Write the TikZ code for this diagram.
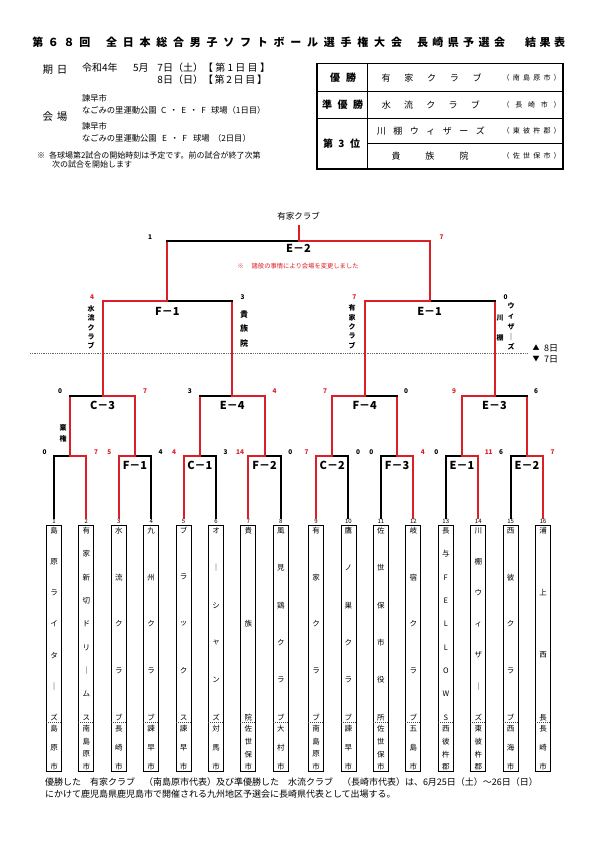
\documentclass[tikz,border=0pt]{standalone}
\usepackage{fontspec}
\setmainfont{Noto Sans CJK JP}
\usetikzlibrary{calc}
\definecolor{bred}{RGB}{220,30,38}
\makeatletter
\newcommand\spr[2]{\hbox to #1{\def\spr@f{1}\@tfor\spr@x:=#2\do{\ifx\spr@f\@empty\hfill\fi\spr@x\def\spr@f{}}}}
\makeatother
\newcommand\vcol[6]{%
  \foreach \ch [count=\k] in {#6} {\xdef\vcnt{\k}}%
  \foreach \ch [count=\k] in {#6} {%
    \node[#5] (#1-\k) at ({#2},{#3+(\k-1)*((#4)-(#3))/(\vcnt-1)}) {\ch};}%
}
\newcommand\arm[4]{\draw[#3] (#1) -- (#1 |- #2); \draw[#4] (#1 |- #2) -- (#2);}
\newcommand\team[4]{%
  \node[num] (n#1) at (#2,521.5) {#1};
  \node[tbox] (b#1) at (#2,648) {};
  \draw[dsep] (b#1.west |- dv) -- (b#1.east |- dv);
  \vcol{nm#1}{#2}{530.5}{717.5}{vn}{#3}
  \vcol{ct#1}{#2}{729}{767}{vn}{#4}
}
\begin{document}
\begin{tikzpicture}[x=1pt,y=-1pt,
  tx/.style={inner sep=0pt,outer sep=0pt},
  ttl/.style={tx,anchor=west,font=\fontsize{11}{11}\selectfont\bfseries},
  inf/.style={tx,anchor=west,font=\fontsize{10}{10}\selectfont},
  ven/.style={tx,anchor=west,font=\fontsize{8.3}{8.3}\selectfont},
  nte/.style={tx,anchor=west,font=\fontsize{8}{8}\selectfont},
  thd/.style={tx,font=\fontsize{10}{10}\selectfont\bfseries},
  tnm/.style={tx,font=\fontsize{9}{9}\selectfont},
  tct/.style={tx,font=\fontsize{7}{7}\selectfont},
  tline/.style={line width=1.4pt},
  lbl/.style={tx,font=\fontsize{11}{11}\selectfont\bfseries},
  sc/.style={tx,font=\fontsize{6.5}{6.5}\selectfont\bfseries},
  scr/.style={sc,text=bred},
  vb/.style={tx,font=\fontsize{7}{7}\selectfont\bfseries},
  vbl/.style={tx,font=\fontsize{8}{8}\selectfont\bfseries},
  vn/.style={tx,font=\fontsize{7.5}{7.5}\selectfont},
  num/.style={inner sep=0pt,outer sep=1pt,font=\fontsize{6}{6}\selectfont},
  tbox/.style={draw,line width=0.9pt,minimum width=15pt,minimum height=246pt,inner sep=0pt},
  dsep/.style={line width=0.5pt,dash pattern=on 1pt off 1pt,black!75},
  ln/.style={line width=2pt,line cap=rect,black},
  lnr/.style={line width=2pt,line cap=rect,bred},
  dotl/.style={line width=0.7pt,dash pattern=on 0.9pt off 0.9pt,black!60},
  btx/.style={tx,anchor=west,font=\fontsize{9}{9}\selectfont}
]
\useasboundingbox (0,0) rectangle (595,842);
\fill[white] (0,0) rectangle (595,842);

% title
\node[ttl] (ti1) at (32.3,42) {\spr{58pt}{第６８回}};
\node[ttl] (ti2) at (106,42) {\spr{296pt}{全日本総合男子ソフトボール選手権大会}};
\node[ttl] (ti3) at (417,42) {\spr{88pt}{長崎県予選会}};
\node[ttl] (ti4) at (525,42) {\spr{40pt}{結果表}};

% info block
\node[tx,font=\fontsize{10.5}{10.5}\selectfont] (kb) at (55,70) {\spr{25pt}{期日}};
\node[inf] (d1a) at (82,68) {令和4年};
\node[inf] (d1b) at (133,68) {5月};
\node[inf,anchor=east] (d1c) at (203,68) {7日（土）};
\node[inf] (d1d) at (203,68) {\spr{67pt}{【第1日目】}};
\node[inf,anchor=east] (d2c) at (203,80) {8日（日）};
\node[inf] (d2d) at (203,80) {\spr{64pt}{【第2日目】}};
\node[tx,font=\fontsize{10.5}{10.5}\selectfont] (kj) at (55,117) {\spr{25pt}{会場}};
\node[ven] (v1a) at (82,98) {諫早市};
\node[ven] (v1b) at (82,110) {なごみの里運動公園};
\node[ven] (v1c) at (161,110) {\spr{45pt}{C・E・F}};
\node[ven] (v1d) at (211,110) {球場（1日目）};
\node[ven] (v2a) at (82,126) {諫早市};
\node[ven] (v2b) at (82,138) {なごみの里運動公園};
\node[ven] (v2c) at (162,138) {\spr{25pt}{E・F}};
\node[ven] (v2d) at (193,138) {球場};
\node[ven] (v2e) at (213,138) {（2日目）};
\node[nte] (nt1) at (37,155) {※\hspace{4pt}各球場第2試合の開始時刻は予定です。前の試合が終了次第};
\node[nte] (nt2) at (52,164) {次の試合を開始します};

% result table
\draw[tline] (317,63.5) rectangle (563,169);
\draw[tline] (317,91.7) -- (563,91.7);
\draw[tline] (317,118.3) -- (563,118.3);
\draw[line width=1pt] (367.3,143.5) -- (563,143.5);
\draw[tline] (367.3,63.5) -- (367.3,169);
\node[thd] (h1) at (343,78) {\spr{26pt}{優勝}};
\node[thd] (h2) at (342.5,105) {\spr{41pt}{準優勝}};
\node[thd] (h3) at (341.5,143.5) {\spr{37pt}{第3位}};
\node[tnm] (r1) at (431.7,78) {\spr{100pt}{有家クラブ}};
\node[tct] (r1c) at (531.7,78) {\spr{58pt}{（南島原市）}};
\node[tnm] (r2) at (430.8,105) {\spr{98pt}{水流クラブ}};
\node[tct] (r2c) at (531.7,105) {\spr{58pt}{（長崎市）}};
\node[tnm] (r3) at (430.8,131) {\spr{108pt}{川棚ウィザーズ}};
\node[tct] (r3c) at (531.7,131) {\spr{58pt}{（東彼杵郡）}};
\node[tnm] (r4) at (430,156) {\spr{77pt}{貴族院}};
\node[tct] (r4c) at (531.7,156) {\spr{58pt}{（佐世保市）}};

% day separator
\draw[dotl] (30,353) -- (528,353);
\node[tx,font=\fontsize{7}{7}\selectfont] (up) at (536,348) {▲};
\node[tx,anchor=west,font=\fontsize{9}{9}\selectfont] (d8) at (544,348) {8日};
\node[tx,font=\fontsize{7}{7}\selectfont] (dn) at (536,359) {▼};
\node[tx,anchor=west,font=\fontsize{9}{9}\selectfont] (d7) at (544,359) {7日};

% teams
\coordinate (dv) at (0,722);
\team{1}{54}{島,原,ラ,イ,タ,｜,ズ}{島,原,市}
\team{2}{86.4}{有,家,新,切,ド,リ,｜,ム,ス}{南,島,原,市}
\team{3}{118.8}{水,流,ク,ラ,ブ}{長,崎,市}
\team{4}{151.2}{九,州,ク,ラ,ブ}{諫,早,市}
\team{5}{183.6}{ブ,ラ,ッ,ク,ス}{諫,早,市}
\team{6}{216}{オ,｜,シ,ャ,ン,ズ}{対,馬,市}
\team{7}{248.4}{貴,族,院}{佐,世,保,市}
\team{8}{280.8}{風,見,鶏,ク,ラ,ブ}{大,村,市}
\team{9}{316}{有,家,ク,ラ,ブ}{南,島,原,市}
\team{10}{348.45}{鷹,ノ,巣,ク,ラ,ブ}{諫,早,市}
\team{11}{380.9}{佐,世,保,市,役,所}{佐,世,保,市}
\team{12}{413.35}{岐,宿,ク,ラ,ブ}{五,島,市}
\team{13}{445.8}{長,与,F,E,L,L,O,W,S}{西,彼,杵,郡}
\team{14}{478.25}{川,棚,ウ,ィ,ザ,｜,ズ}{東,彼,杵,郡}
\team{15}{510.7}{西,彼,ク,ラ,ブ}{西,海,市}
\team{16}{543.15}{浦,上,西,長}{長,崎,市}

% match points
\coordinate (a1) at (70.2,456);
\coordinate (a2) at (135,456);
\coordinate (a3) at (199.8,456);
\coordinate (a4) at (264.6,456);
\coordinate (a5) at (332.2,456);
\coordinate (a6) at (397.1,456);
\coordinate (a7) at (462,456);
\coordinate (a8) at (526.9,456);
\coordinate (b1) at (102.6,396);
\coordinate (b2) at (232.2,396);
\coordinate (b3) at (364.7,396);
\coordinate (b4) at (494.5,396);
\coordinate (c1) at (167.4,301);
\coordinate (c2) at (429.6,301);
\coordinate (d1) at (298.5,241);
\coordinate (topc) at (298.5,226);

% round 1
\arm{n1.north}{a1}{ln}{ln}
\arm{n2.north}{a1}{lnr}{lnr}
\arm{n3.north}{a2}{lnr}{lnr}
\arm{n4.north}{a2}{ln}{ln}
\arm{n5.north}{a3}{lnr}{lnr}
\arm{n6.north}{a3}{ln}{ln}
\arm{n7.north}{a4}{lnr}{lnr}
\arm{n8.north}{a4}{ln}{ln}
\arm{n9.north}{a5}{lnr}{lnr}
\arm{n10.north}{a5}{ln}{ln}
\arm{n11.north}{a6}{ln}{ln}
\arm{n12.north}{a6}{lnr}{lnr}
\arm{n13.north}{a7}{ln}{ln}
\arm{n14.north}{a7}{lnr}{lnr}
\arm{n15.north}{a8}{ln}{ln}
\arm{n16.north}{a8}{lnr}{lnr}
% round 2
\arm{a1}{b1}{lnr}{ln}
\arm{a2}{b1}{lnr}{lnr}
\arm{a3}{b2}{lnr}{ln}
\arm{a4}{b2}{lnr}{lnr}
\arm{a5}{b3}{lnr}{lnr}
\arm{a6}{b3}{lnr}{ln}
\arm{a7}{b4}{lnr}{lnr}
\arm{a8}{b4}{lnr}{ln}
% round 3
\arm{b1}{c1}{lnr}{lnr}
\arm{b2}{c1}{lnr}{ln}
\arm{b3}{c2}{lnr}{lnr}
\arm{b4}{c2}{lnr}{ln}
% final
\arm{c1}{d1}{lnr}{ln}
\arm{c2}{d1}{lnr}{lnr}
\node[tx,font=\fontsize{8.5}{8.5}\selectfont] (win) at (298.5,216) {有家クラブ};
\draw[lnr] (d1) -- (topc);

% match labels
\node[lbl] (lE2) at (298.5,248) {E－2};
\node[lbl] (lF1b) at (167.4,311) {F－1};
\node[lbl] (lE1b) at (429.6,311) {E－1};
\node[lbl] (lC3) at (102.6,405.5) {C－3};
\node[lbl] (lE4) at (232.2,405.5) {E－4};
\node[lbl] (lF4) at (364.7,405.5) {F－4};
\node[lbl] (lE3) at (494.5,405.5) {E－3};
\node[lbl] (lF1) at (135,465.5) {F－1};
\node[lbl] (lC1) at (199.8,465.5) {C－1};
\node[lbl] (lF2) at (264.6,465.5) {F－2};
\node[lbl] (lC2) at (332.2,465.5) {C－2};
\node[lbl] (lF3) at (397.1,465.5) {F－3};
\node[lbl] (lE1) at (462,465.5) {E－1};
\node[lbl] (lE2b) at (526.9,465.5) {E－2};
\node[tx,font=\fontsize{6.3}{6.3}\selectfont,text=bred] (rn) at (298,266) {※\hspace{8pt}諸般の事情により会場を変更しました};

% scores
\node[sc] (s1) at (44.5,452) {0};
\node[scr] (s2) at (96,452) {7};
\node[scr] (s3) at (109.3,452) {5};
\node[sc] (s4) at (160.7,452) {4};
\node[scr] (s5) at (174.1,452) {4};
\node[sc] (s6) at (225.5,452) {3};
\node[scr] (s7) at (240,452) {14};
\node[sc] (s8) at (290.3,452) {0};
\node[scr] (s9) at (306.5,452) {7};
\node[sc] (s10) at (358,452) {0};
\node[sc] (s11) at (371.4,452) {0};
\node[scr] (s12) at (422.9,452) {4};
\node[sc] (s13) at (436.3,452) {0};
\node[scr] (s14) at (488.7,452) {11};
\node[sc] (s15) at (501.2,452) {6};
\node[scr] (s16) at (552.7,452) {7};
\node[sc] (u1) at (60.2,391.5) {0};
\node[scr] (u2) at (145,391.5) {7};
\node[sc] (u3) at (189.8,391.5) {3};
\node[scr] (u4) at (274.6,391.5) {4};
\node[scr] (u5) at (325,391.5) {7};
\node[sc] (u6) at (406,391.5) {0};
\node[scr] (u7) at (454,391.5) {9};
\node[sc] (u8) at (536,391.5) {6};
\node[scr] (w1) at (92,297.5) {4};
\node[sc] (w2) at (242.5,297.5) {3};
\node[scr] (w3) at (354.3,297.5) {7};
\node[sc] (w4) at (505.5,297.5) {0};
\node[sc] (f1) at (150,237) {1};
\node[scr] (f2) at (441.7,237) {7};

% vertical names
\vcol{vA}{91}{309}{346}{vb}{水,流,ク,ラ,ブ}
\vcol{vB}{244}{314}{343}{vbl}{貴,族,院}
\vcol{vC}{352}{308}{346}{vb}{有,家,ク,ラ,ブ}
\vcol{vD}{511}{306}{347}{vb}{ウ,ィ,ザ,｜,ズ}
\vcol{vE}{500}{318}{338}{vb}{川,棚}
\vcol{vF}{63}{428}{439}{vb}{棄,権}

% bottom text
\node[btx] (bt1) at (45,782) {優勝した　有家クラブ　（南島原市代表）及び準優勝した　水流クラブ　（長崎市代表）は、6月25日（土）～26日（日）};
\node[btx] (bt2) at (45,794) {にかけて鹿児島県鹿児島市で開催される九州地区予選会に長崎県代表として出場する。};
\end{tikzpicture}
\end{document}
